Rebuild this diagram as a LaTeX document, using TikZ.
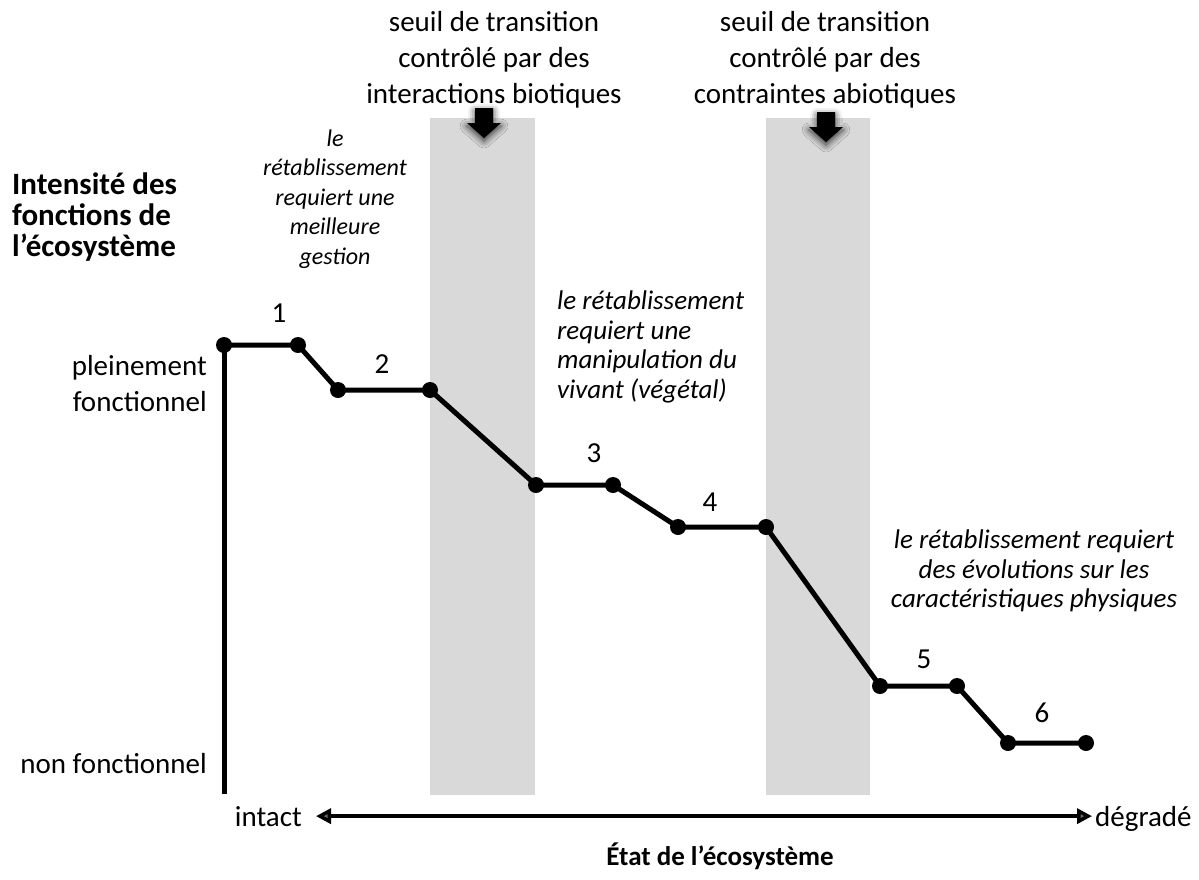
\documentclass[tikz,border=0pt]{standalone}
\usepackage{fontspec}
\setmainfont{Carlito}
\usetikzlibrary{arrows.meta,shadows.blur}
\definecolor{bandgray}{HTML}{D9D9D9}
\begin{document}
\begin{tikzpicture}[x=1pt,y=-1pt,
  dot/.style={circle,fill=black,inner sep=0pt,minimum size=16pt},
  curve/.style={line width=5pt,line join=round},
  band/.style={fill=bandgray},
  txt/.style={font=\fontsize{29}{36}\selectfont,inner sep=0pt},
  note/.style={font=\fontsize{24}{29.5}\selectfont\itshape,inner sep=0pt},
  bignote/.style={font=\fontsize{27}{29.5}\selectfont\itshape,inner sep=0pt},
  head/.style={font=\fontsize{31}{31}\selectfont\bfseries,inner sep=0pt},
  title/.style={font=\fontsize{27}{30}\selectfont\bfseries,inner sep=0pt},
  num/.style={font=\fontsize{29}{36}\selectfont,inner sep=0pt},
  blockarrow/.style={fill=black,blur shadow={shadow xshift=0pt,shadow yshift=-3pt,shadow blur radius=7pt,shadow opacity=80}}
]
\useasboundingbox (0,0) rectangle (1199,879);

% transition bands
\fill[band] (430,118) rectangle (535,795);
\fill[band] (766,118) rectangle (870,795);

% threshold arrows
\path[blockarrow] (475,108) -- (493,108) -- (493,123) -- (501,123) -- (484,138)
  -- (467,123) -- (475,123) -- cycle;
\path[blockarrow] (817,112) -- (835,112) -- (835,127) -- (843,127) -- (826,142)
  -- (809,127) -- (817,127) -- cycle;

% threshold captions
\node[txt,align=center] (capA) at (494,60) {seuil de transition\\contrôlé par des\\interactions biotiques};
\node[txt,align=center] (capB) at (825,60) {seuil de transition\\contrôlé par des\\contraintes abiotiques};

% recovery notes
\node[note,align=center] (noteA) at (335,199) {le\\rétablissement\\requiert une\\meilleure\\gestion};
\node[bignote,align=left,anchor=west] (noteB) at (557,347) {le rétablissement\\requiert une\\manipulation du\\vivant (végétal)};
\node[bignote,align=center] (noteC) at (1034,571) {le rétablissement requiert\\des évolutions sur les\\caractéristiques physiques};

% vertical axis labels
\node[head,align=left,anchor=west] (ylab) at (12,217) {Intensité des\\fonctions de\\l’écosystème};
\node[txt,align=right,anchor=east] (full) at (207,384) {pleinement\\fonctionnel};
\node[txt,anchor=east] (none) at (207,764) {non fonctionnel};

% state points
\node[dot] (p0) at (224,345) {};
\node[dot] (p1) at (298,345) {};
\node[dot] (p2) at (338,390) {};
\node[dot] (p3) at (430,390) {};
\node[dot] (p4) at (536,485) {};
\node[dot] (p5) at (613,485) {};
\node[dot] (p6) at (678,527) {};
\node[dot] (p7) at (766,527) {};
\node[dot] (p8) at (880,686) {};
\node[dot] (p9) at (957,686) {};
\node[dot] (p10) at (1008,743) {};
\node[dot] (p11) at (1086,743) {};
\coordinate (axbot) at (224,794);

% vertical axis and degradation path
\draw[curve] (axbot) -- (p0.center);
\draw[curve] (p0.center) -- (p1.center) -- (p2.center) -- (p3.center) -- (p4.center)
  -- (p5.center) -- (p6.center) -- (p7.center) -- (p8.center) -- (p9.center)
  -- (p10.center) -- (p11.center);

% step numbers
\node[num] (n1) at (279,313) {1};
\node[num] (n2) at (382,364) {2};
\node[num] (n3) at (594,453) {3};
\node[num] (n4) at (710,502) {4};
\node[num] (n5) at (924,659) {5};
\node[num] (n6) at (1042,713) {6};

% horizontal axis
\node[txt,anchor=base east] (intact) at (302,826) {intact};
\node[txt,anchor=base west] (degr) at (1095,826) {dégradé};
\draw[line width=3.5pt,{Triangle[length=15pt,width=15pt]}-{Triangle[length=15pt,width=15pt]}]
  ([xshift=14pt]intact.east) -- ([xshift=-3pt]degr.west |- intact.east);
\node[title] (xlab) at (720,856) {État de l’écosystème};
\end{tikzpicture}
\end{document}
